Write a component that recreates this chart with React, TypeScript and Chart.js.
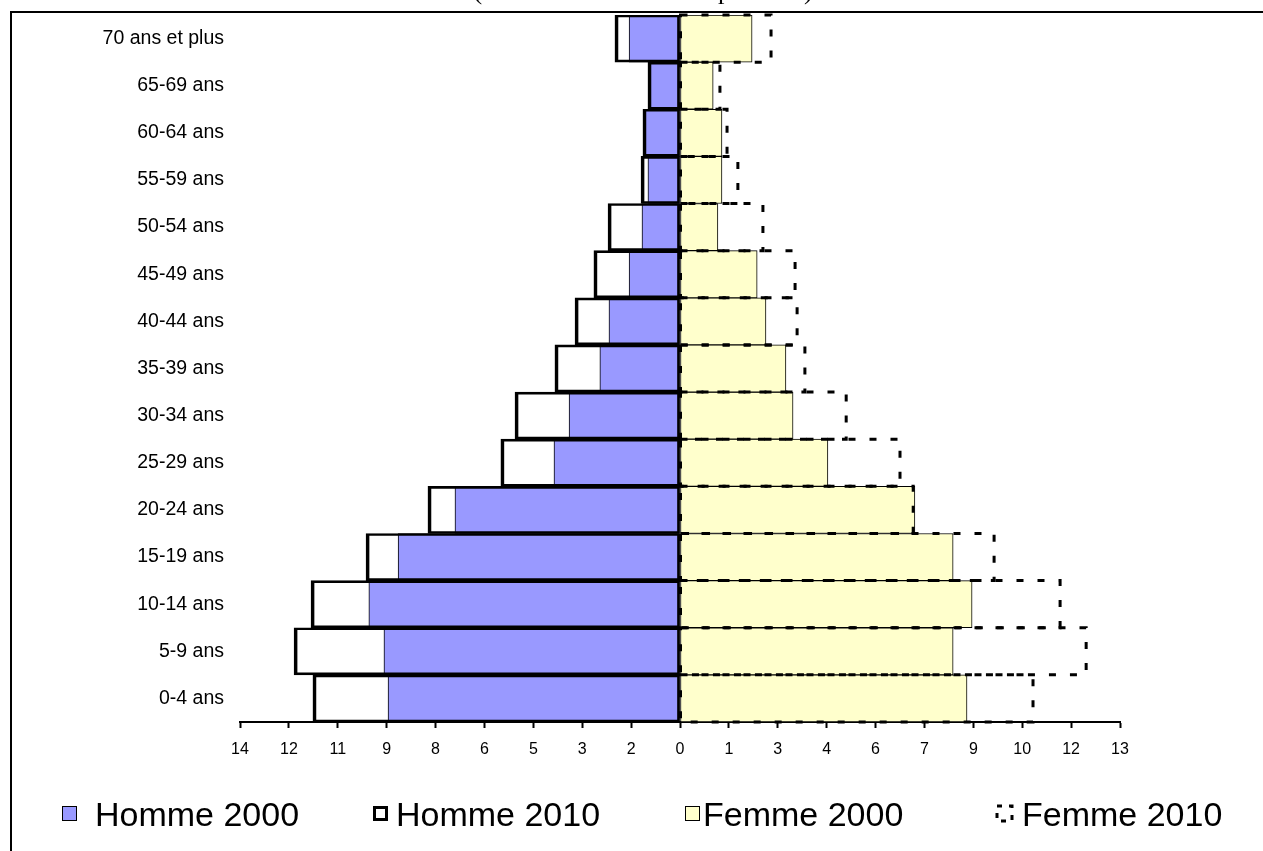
import React, { useEffect, useRef } from 'react';
import { Chart, registerables } from 'chart.js';

Chart.register(...registerables);

// ---- Data (bottom to top) ----
const AGE_GROUPS = ['0-4 ans', '5-9 ans', '10-14 ans', '15-19 ans', '20-24 ans', '25-29 ans', '30-34 ans', '35-39 ans', '40-44 ans', '45-49 ans', '50-54 ans', '55-59 ans', '60-64 ans', '65-69 ans', '70 ans et plus'];
const HOMME_2000 = [9.29, 9.42, 9.90, 8.97, 7.16, 4.01, 3.53, 2.55, 2.26, 1.62, 1.21, 1.02, 1.11, 0.95, 1.62];
const HOMME_2010 = [11.68, 12.28, 11.74, 9.99, 8.02, 5.70, 5.25, 3.98, 3.34, 2.74, 2.29, 1.24, 1.18, 1.02, 2.07];
const FEMME_2000 = [8.48, 8.07, 8.63, 8.07, 6.94, 4.37, 3.34, 3.13, 2.54, 2.28, 1.12, 1.24, 1.24, 0.98, 2.13];
const FEMME_2010 = [10.43, 12.00, 11.23, 9.28, 6.89, 6.50, 4.91, 3.69, 3.46, 3.40, 2.45, 1.71, 1.39, 1.18, 2.69];
const X_TICK_LABELS = ['14', '12', '11', '9', '8', '6', '5', '3', '2', '0', '1', '3', '4', '6', '7', '9', '10', '12', '13'];
const HOMME_AXIS_MAX = 14;
const FEMME_AXIS_MAX = 13;
const TICK_STEPS = 9;
const TITLE_TEXT = "(en % de l'effectif total par sexe)";

const FONT = '"Liberation Sans", Arial, sans-serif';

export default function App() {
  const ref = useRef<HTMLCanvasElement>(null);

  useEffect(() => {
    document.body.style.margin = '0';
    document.body.style.overflow = 'hidden';
    const canvas = ref.current;
    if (!canvas) return;

    const toHomme = (v: number) => (-v / HOMME_AXIS_MAX) * TICK_STEPS;
    const toFemme = (v: number) => (v / FEMME_AXIS_MAX) * TICK_STEPS;

    const DASH = [7, 14];

    const framePlugin = {
      id: 'frame',
      beforeDraw(chart: any) {
        const ctx = chart.ctx;
        ctx.save();
        ctx.fillStyle = '#fff';
        ctx.fillRect(0, 0, chart.width, chart.height);
        ctx.strokeStyle = '#000';
        ctx.lineWidth = 2;
        ctx.strokeRect(11, 12, chart.width + 20, chart.height + 20);
        ctx.font = '26px "Liberation Serif", "Times New Roman", serif';
        ctx.fillStyle = '#000';
        ctx.textAlign = 'center';
        ctx.textBaseline = 'alphabetic';
        ctx.fillText(TITLE_TEXT, 643, -1.5);
        ctx.restore();
      },
    };

    const dashedPlugin = {
      id: 'dashedFemme2010',
      afterDatasetsDraw(chart: any) {
        const ctx = chart.ctx;
        const meta = chart.getDatasetMeta(2);
        ctx.save();
        ctx.strokeStyle = '#000';
        ctx.lineWidth = 3;
        ctx.setLineDash(DASH);
        meta.data.forEach((el: any) => {
          const { x, y, base, height } = el.getProps(['x', 'y', 'base', 'height'], true);
          ctx.beginPath();
          ctx.rect(base, y - height / 2, x - base, height);
          ctx.stroke();
        });
        ctx.restore();
      },
    };

    const legendPlugin = {
      id: 'customLegend',
      afterDraw(chart: any) {
        const ctx = chart.ctx;
        const order = [1, 0, 3, 2];
        const boxX = [62, 373, 685, 997];
        const textX = [95, 396, 703, 1022];
        const boxY = 806;
        const size = 15;
        ctx.save();
        ctx.font = `34px ${FONT}`;
        ctx.textBaseline = 'middle';
        ctx.textAlign = 'left';
        order.forEach((di, i) => {
          const ds = chart.data.datasets[di];
          const bx = boxX[i];
          if (di === 2) {
            ctx.strokeStyle = '#000';
            ctx.lineWidth = 3;
            ctx.setLineDash([5, 7]);
            ctx.strokeRect(bx, boxY, size, size);
            ctx.setLineDash([]);
          } else {
            const bg = ds.backgroundColor === 'rgba(0,0,0,0)' ? '#fff' : ds.backgroundColor;
            ctx.fillStyle = bg;
            ctx.fillRect(bx, boxY, size, size);
            ctx.strokeStyle = '#000';
            ctx.lineWidth = di === 0 ? 3 : 1;
            ctx.strokeRect(bx + ctx.lineWidth / 2, boxY + ctx.lineWidth / 2, size - ctx.lineWidth, size - ctx.lineWidth);
          }
          ctx.fillStyle = '#000';
          ctx.fillText(ds.label, textX[i], 817);
        });
        ctx.restore();
      },
    };

    const chart = new Chart(canvas, {
      type: 'bar',
      data: {
        labels: AGE_GROUPS,
        datasets: [
          {
            label: 'Homme 2010',
            data: HOMME_2010.map(toHomme),
            backgroundColor: 'rgba(0,0,0,0)',
            borderColor: '#000',
            borderWidth: { left: 3, right: 2, top: 2, bottom: 2 },
            borderSkipped: false,
            grouped: false,
            order: 0,
          },
          {
            label: 'Homme 2000',
            data: HOMME_2000.map(toHomme),
            backgroundColor: '#9999FF',
            borderColor: '#000',
            borderWidth: 1,
            borderSkipped: false,
            grouped: false,
            order: 1,
          },
          {
            label: 'Femme 2010',
            data: FEMME_2010.map(toFemme),
            backgroundColor: 'rgba(0,0,0,0)',
            borderWidth: 0,
            grouped: false,
            order: 0,
          },
          {
            label: 'Femme 2000',
            data: FEMME_2000.map(toFemme),
            backgroundColor: '#FFFFCC',
            borderColor: '#000',
            borderWidth: 1,
            borderSkipped: false,
            grouped: false,
            order: 1,
          },
        ],
      } as any,
      options: {
        indexAxis: 'y',
        responsive: false,
        animation: false,
        devicePixelRatio: 1,
        barPercentage: 1,
        categoryPercentage: 1,
        layout: { padding: { left: 0, right: 143, top: 15, bottom: 0 } },
        plugins: {
          legend: { display: false },
          tooltip: { enabled: false },
          title: { display: false },
        },
        scales: {
          x: {
            type: 'linear',
            min: -TICK_STEPS,
            max: TICK_STEPS,
            afterFit: (scale: any) => {
              scale.height = 129;
            },
            grid: {
              drawOnChartArea: false,
              drawTicks: true,
              tickLength: 6,
              tickWidth: 2,
              color: '#000',
            },
            border: { display: true, color: '#000', width: 2 },
            ticks: {
              stepSize: 1,
              autoSkip: false,
              maxRotation: 0,
              padding: 12,
              color: '#000',
              font: { family: FONT, size: 16 },
              callback: (v: any) => X_TICK_LABELS[Math.round(Number(v)) + TICK_STEPS],
            },
          },
          y: {
            type: 'category',
            reverse: true,
            afterFit: (scale: any) => {
              scale.width = 240;
              scale.paddingTop = 0;
              scale.paddingBottom = 0;
            },
            grid: { display: false },
            border: { display: false },
            ticks: {
              padding: 8,
              autoSkip: false,
              color: '#000',
              font: { family: FONT, size: 19.5 },
            },
          },
        },
      } as any,
      plugins: [framePlugin, dashedPlugin, legendPlugin],
    });

    return () => {
      chart.destroy();
    };
  }, []);

  return (
    <div style={{ width: 1263, height: 851, position: 'relative' }}>
      <canvas ref={ref} width={1263} height={851} style={{ display: 'block', width: 1263, height: 851 }} />
    </div>
  );
}
